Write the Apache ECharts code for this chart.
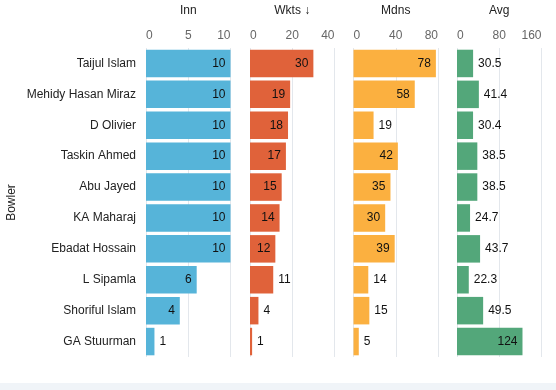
<!DOCTYPE html>
<html><head><meta charset="utf-8">
<script src="https://cdn.jsdelivr.net/npm/echarts@6/dist/echarts.min.js"></script>
<style>html,body{margin:0;padding:0;background:#fff}#c{width:556px;height:390px}
#band{position:absolute;left:0;top:383px;width:556px;height:7px;background:#f0f4f8}</style>
</head><body><div id="c"></div><div id="band"></div>
<script>
const bowlers = ["Taijul Islam","Mehidy Hasan Miraz","D Olivier","Taskin Ahmed","Abu Jayed","KA Maharaj","Ebadat Hossain","L Sipamla","Shoriful Islam","GA Stuurman"];
const inn  = [10,10,10,10,10,10,10,6,4,1];
const wkts = [30,19,18,17,15,14,12,11,4,1];
const mdns = [78,58,19,42,35,30,39,14,15,5];
const avg  = [30.5,41.4,30.4,38.5,38.5,24.7,43.7,22.3,49.5,124];
const titles = ["Inn","Wkts \u2193","Mdns","Avg"];
const maxes = [10,40,80,160];
const intervals = [5,20,40,80];
const colors = ["#56b4d9","#e0623a","#fbb040","#53a77a"];
const seriesData = [inn,wkts,mdns,avg];

const lefts = [146,250,353.5,457];
const W = 84.5, TOP = 40, H = 317;
const chart = echarts.init(document.getElementById('c'));
const grids=[],xAxes=[],yAxes=[],series=[];
for(let i=0;i<4;i++){
  grids.push({left:lefts[i],top:TOP,width:W,height:H});
  xAxes.push({gridIndex:i,type:'value',position:'top',min:0,max:maxes[i],interval:intervals[i],
    name:titles[i],nameLocation:'middle',nameGap:31,nameTextStyle:{color:'#222',fontSize:12,fontFamily:'Liberation Sans'},
    axisLine:{show:false},axisTick:{show:false},
    axisLabel:{color:'#666',fontSize:12,margin:6,fontFamily:'Liberation Sans',alignMinLabel:'left',alignMaxLabel:'right'},
    splitLine:{show:true,lineStyle:{color:'#e3e7ec',width:1}}});
  yAxes.push({gridIndex:i,type:'category',data:bowlers,inverse:true,
    axisLine:{show:false},axisTick:{show:false},
    axisLabel:{show:i===0,color:'#222',fontSize:12,margin:10,fontFamily:'Liberation Sans'},
    name:i===0?'Bowler':'',nameLocation:'middle',nameGap:128,nameRotate:90,
    nameTextStyle:{color:'#222',fontSize:12,fontFamily:'Liberation Sans'}});
  const data = seriesData[i].map(v=>{
    const px = v/maxes[i]*W;
    const tw = String(v).length*6.5+11;
    const inside = px>tw;
    return {value:v,label:{position:inside?'insideRight':'right',distance:5}};
  });
  series.push({type:'bar',xAxisIndex:i,yAxisIndex:i,data:data,barCategoryGap:'11%',
    itemStyle:{color:colors[i]},
    label:{show:true,color:'#111',fontSize:12,fontFamily:'Liberation Sans'}});
}
chart.setOption({animation:false,grid:grids,xAxis:xAxes,yAxis:yAxes,series:series});
</script></body></html>
